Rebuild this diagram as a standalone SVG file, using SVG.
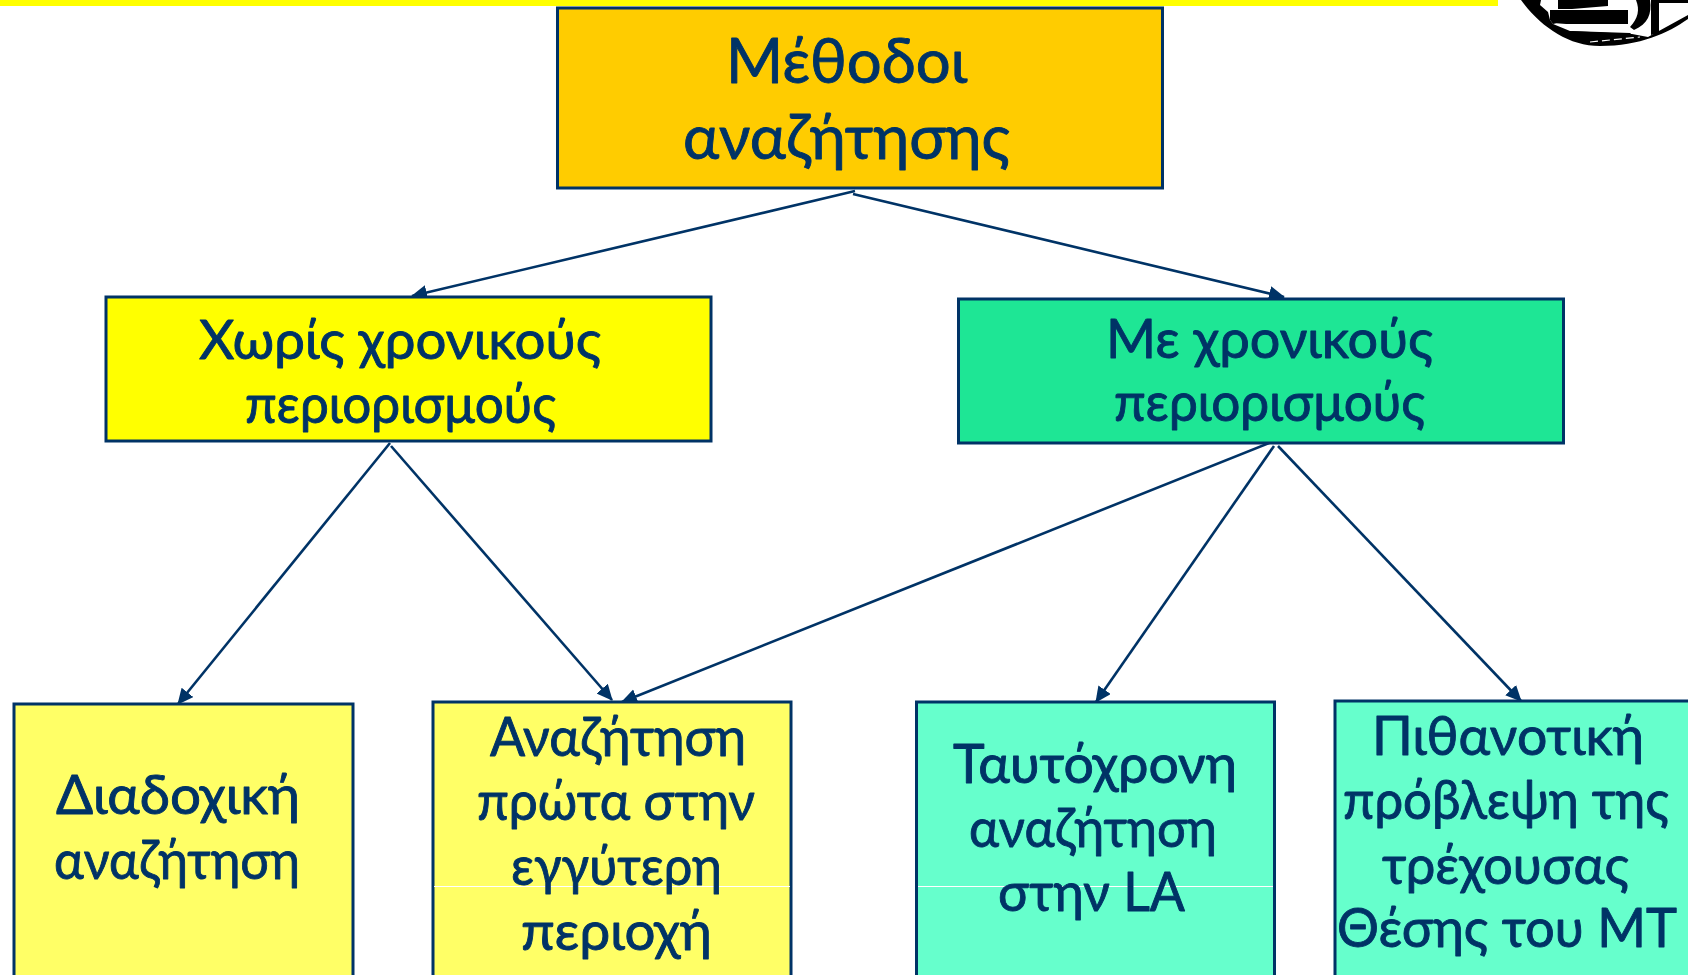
<svg xmlns="http://www.w3.org/2000/svg" width="1688" height="975" viewBox="0 0 1688 975">
<defs>
<style>
.b{stroke:#003366;stroke-width:3}
.t{font-family:"Lato","Noto Sans",sans-serif;fill:#003366;stroke:#003366;stroke-width:.9;stroke-linejoin:round;text-anchor:start}
.l{font-size:62px}.m{font-size:54px}
.c{stroke:#003366;stroke-width:2.6;fill:none;marker-end:url(#a)}
.w{stroke:#ffffff;stroke-width:1}
</style>
<marker id="a" markerUnits="userSpaceOnUse" markerWidth="18" markerHeight="16" refX="15" refY="7.5" orient="auto"><path d="M0 0L16 7.5L0 15Z" fill="#003366"/></marker>
</defs>
<rect id="topbar" x="0" y="0" width="1498" height="6" fill="#ffff00"/>
<g id="logo" fill="#000000">
<path d="M1521 0H1541L1540 5L1548 12L1550 20L1553 24L1570 31L1632 34L1648 37L1688 15V19C1668 33 1640 46 1600 46C1568 46 1540 26 1521 0Z"/>
<path d="M1550 10H1628V24H1553L1550 20Z"/>
<path d="M1558 0H1608V6L1572 9H1558Z"/>
<path d="M1636 0H1650C1652 14 1648 24 1634 30L1630 27C1638 18 1640 10 1636 0Z"/>
<path d="M1651 0H1688V3H1659V33L1651 35Z"/>
<path d="M1570 31L1630 33L1636 38L1600 42L1590 42Z" fill="#000000"/>
<path d="M1553 23L1632 29L1636 32L1570 28Z" fill="#ffffff"/>
<path d="M1590 42L1640 37" stroke="#ffffff" stroke-width="1.2" stroke-dasharray="8 4"/>
</g>
<g id="connectors">
<line class="c" x1="855" y1="191" x2="412" y2="296"/>
<line class="c" x1="853" y1="194" x2="1284" y2="297"/>
<line class="c" x1="390" y1="443" x2="178" y2="704"/>
<line class="c" x1="391" y1="446" x2="612" y2="700"/>
<line class="c" x1="1274" y1="441" x2="622" y2="702"/>
<line class="c" x1="1274" y1="446" x2="1096" y2="702"/>
<line class="c" x1="1278" y1="446" x2="1521" y2="701"/>
</g>
<g id="n1"><rect class="b" x="557.5" y="8" width="605" height="180" fill="#ffcc00"/>
<text class="t l" x="726" y="83" textLength="241" lengthAdjust="spacingAndGlyphs">Μέθοδοι</text>
<text class="t l" x="683" y="159" textLength="327" lengthAdjust="spacingAndGlyphs">αναζήτησης</text></g>
<g id="n2"><rect class="b" x="106" y="297" width="605" height="144" fill="#ffff00"/>
<text class="t m" x="199" y="359" textLength="402" lengthAdjust="spacingAndGlyphs">Χωρίς χρονικούς</text>
<text class="t m" x="245" y="423" textLength="311" lengthAdjust="spacingAndGlyphs">περιορισμούς</text></g>
<g id="n3"><rect class="b" x="958.5" y="299" width="605" height="144" fill="#1ee695"/>
<text class="t m" x="1106" y="358" textLength="327" lengthAdjust="spacingAndGlyphs">Με χρονικούς</text>
<text class="t m" x="1114" y="421" textLength="311" lengthAdjust="spacingAndGlyphs">περιορισμούς</text></g>
<g id="n4"><rect class="b" x="14" y="704" width="339" height="290" fill="#ffff66"/>
<text class="t m" x="56" y="814" textLength="244" lengthAdjust="spacingAndGlyphs">Διαδοχική</text>
<text class="t m" x="54" y="879" textLength="246" lengthAdjust="spacingAndGlyphs">αναζήτηση</text></g>
<g id="n5"><rect class="b" x="433" y="702" width="358" height="290" fill="#ffff66"/><line class="w" x1="434" y1="886.5" x2="790" y2="886.5"/>
<text class="t m" x="490" y="756" textLength="256" lengthAdjust="spacingAndGlyphs">Αναζήτηση</text>
<text class="t m" x="477" y="820" textLength="278" lengthAdjust="spacingAndGlyphs">πρώτα στην</text>
<text class="t m" x="511" y="885" textLength="211" lengthAdjust="spacingAndGlyphs">εγγύτερη</text>
<text class="t m" x="521" y="950" textLength="191" lengthAdjust="spacingAndGlyphs">περιοχή</text></g>
<g id="n6"><rect class="b" x="916.5" y="702" width="358" height="290" fill="#66ffcc"/><line class="w" x1="918" y1="886.5" x2="1273" y2="886.5"/>
<text class="t m" x="953" y="783" textLength="284" lengthAdjust="spacingAndGlyphs">Ταυτόχρονη</text>
<text class="t m" x="969" y="847" textLength="248" lengthAdjust="spacingAndGlyphs">αναζήτηση</text>
<text class="t m" x="998" y="911" textLength="187" lengthAdjust="spacingAndGlyphs">στην LA</text></g>
<g id="n7"><rect class="b" x="1335" y="701" width="370" height="290" fill="#66ffcc"/>
<text class="t m" x="1372" y="755" textLength="272" lengthAdjust="spacingAndGlyphs">Πιθανοτική</text>
<text class="t m" x="1343" y="819" textLength="326" lengthAdjust="spacingAndGlyphs">πρόβλεψη της</text>
<text class="t m" x="1382" y="884" textLength="247" lengthAdjust="spacingAndGlyphs">τρέχουσας</text>
<text class="t m" x="1337" y="947" textLength="340" lengthAdjust="spacingAndGlyphs">Θέσης του ΜΤ</text></g>
</svg>
